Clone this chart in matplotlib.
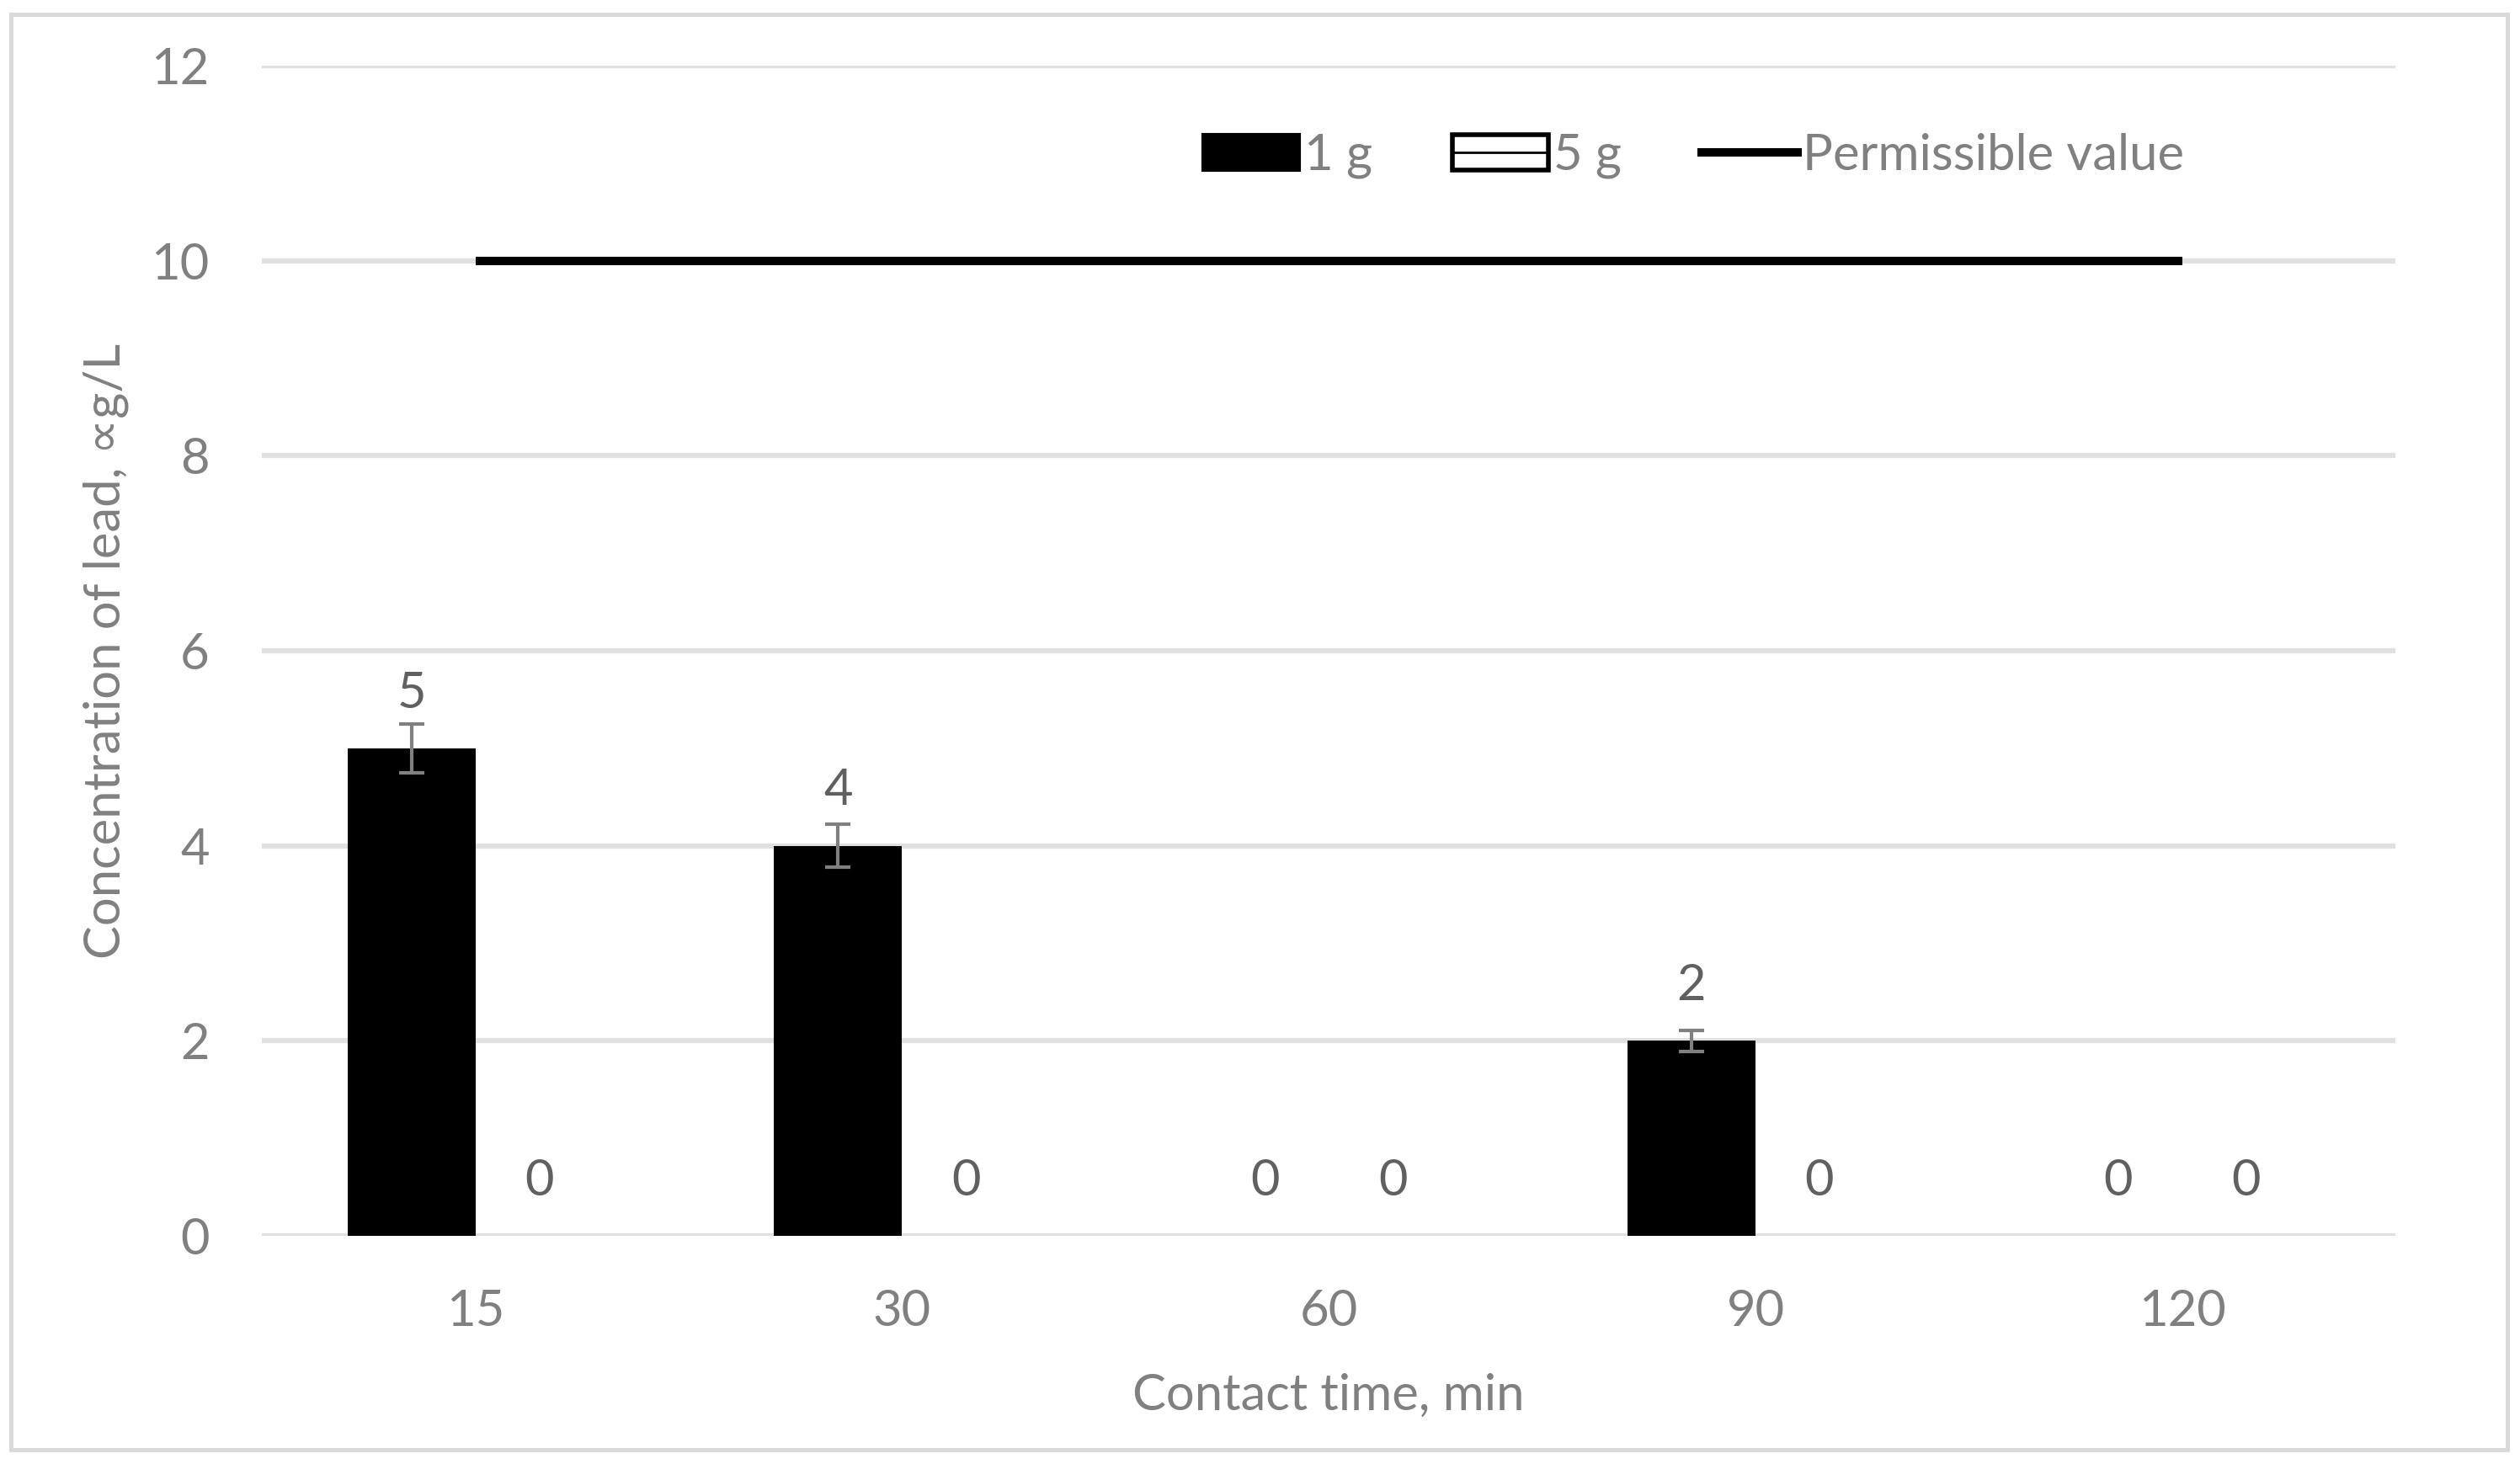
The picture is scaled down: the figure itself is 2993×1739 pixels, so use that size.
import matplotlib
matplotlib.use("Agg")
import matplotlib.pyplot as plt
from matplotlib.patches import Patch, Rectangle
from matplotlib.lines import Line2D
from matplotlib.legend_handler import HandlerTuple
import numpy as np

# ---- data ----
categories = ["15", "30", "60", "90", "120"]
series_1g = [5, 4, 0, 2, 0]
err_1g = [0.25, 0.22, 0, 0.11, 0]
series_5g = [0, 0, 0, 0, 0]
permissible = [10, 10, 10, 10, 10]
yticks = [0, 2, 4, 6, 8, 10, 12]

plt.rcParams['font.family'] = ['Lato', 'DejaVu Sans']
TICK_C = '#808080'
LBL_C = '#606060'
GRID_C = '#e0e0e0'
FS = 43

fig = plt.figure(figsize=(29.93, 17.39), dpi=100)
ax = fig.add_axes([0.104, 0.1558, 0.8466, 0.7993])

x = np.arange(len(categories))
w = 0.30

ax.bar(x - w / 2, series_1g, width=w, color='black', linewidth=0, zorder=3)
idx = [i for i, e in enumerate(err_1g) if e > 0]
ax.errorbar([x[i] - w / 2 for i in idx], [series_1g[i] for i in idx],
            yerr=[err_1g[i] for i in idx], fmt='none', ecolor='#808080',
            elinewidth=3, capsize=10.5, capthick=3, zorder=4)
ax.bar(x + w / 2, series_5g, width=w, color='white', linewidth=0, zorder=3)
ax.plot(x, permissible, color='black', linewidth=7.2, solid_capstyle='butt', zorder=5)

for xi, v in zip(x - w / 2, series_1g):
    ax.annotate(f"{v}", (xi, v), xytext=(0, 47), textcoords='offset points',
                ha='center', va='center', fontsize=FS, color=LBL_C)
for xi, v in zip(x + w / 2, series_5g):
    ax.annotate(f"{v}", (xi, v), xytext=(0, 47), textcoords='offset points',
                ha='center', va='center', fontsize=FS, color=LBL_C)

ax.set_xlim(-0.5, len(categories) - 0.5)
ax.set_ylim(0, 12)
ax.set_yticks(yticks)
ax.set_xticks(x)
ax.set_xticklabels(categories)
ax.tick_params(axis='both', length=0, labelsize=FS, labelcolor=TICK_C)
ax.tick_params(axis='y', pad=45)
ax.tick_params(axis='x', pad=45)
for s in ax.spines.values():
    s.set_visible(False)
ax.grid(axis='y', color=GRID_C, linewidth=4.5, zorder=0)
ax.set_axisbelow(True)

ax.set_xlabel("Contact time, min", fontsize=FS, color=TICK_C, labelpad=33)
ax.set_ylabel("Concentration of lead, \u221dg/L", fontsize=FS, color=TICK_C, labelpad=19)

h1 = Patch(facecolor='black', edgecolor='black', linewidth=3)
h2 = (Patch(facecolor='white', edgecolor='black', linewidth=4),
      Line2D([], [], color='black', linewidth=2))
h3 = Line2D([], [], color='black', linewidth=7.2)
leg = ax.legend([h1, h2, h3], ["1 g", "5 g", "Permissible value"],
                handler_map={tuple: HandlerTuple(ndivide=1, pad=0)},
                loc='center', bbox_to_anchor=(0.671, 0.923), ncol=3, frameon=False,
                fontsize=FS, handlelength=1.9, handletextpad=0.1, columnspacing=1.6)
for t in leg.get_texts():
    t.set_color(TICK_C)

fig.patches.append(Rectangle((13 / 2993, 1 - 1722 / 1739), (2978 - 13) / 2993, (1722 - 17) / 1739,
                             transform=fig.transFigure, fill=False, edgecolor='#d9d9d9',
                             linewidth=3.5))

fig.savefig("out.png", dpi=100, facecolor='white')
